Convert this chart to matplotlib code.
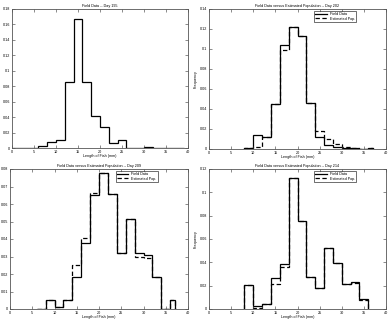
import numpy as np
import matplotlib
matplotlib.use("Agg")
import matplotlib.pyplot as plt
from matplotlib.ticker import FormatStrFormatter, MultipleLocator

plt.rcParams['font.family'] = ['Liberation Sans', 'DejaVu Sans']

# ---- data ----
edges_195 = list(range(0, 39, 2)) + [39]
field_195 = [0, 0, 0, 0.002, 0.0075, 0.011, 0.085, 0.167, 0.085, 0.041,
             0.027, 0.007, 0.010, 0, 0, 0.001, 0, 0, 0, 0]

edges_202 = list(range(8, 37, 2)) + [37]
field_202 = [0.001, 0.014, 0.0115, 0.045, 0.1035, 0.1215, 0.113, 0.046,
             0.0115, 0.0035, 0.0022, 0.001, 0.0005, 0, 0.001]
est_202 = [0.001, 0.002, 0.0115, 0.045, 0.099, 0.1215, 0.113, 0.046,
           0.0178, 0.0098, 0.0045, 0.0018, 0.001, 0.0004, 0.001]

edges_209 = list(range(6, 37, 2)) + [37]
field_209 = [0, 0.005, 0.001, 0.005, 0.0185, 0.038, 0.065, 0.078, 0.0655,
             0.032, 0.0516, 0.032, 0.0307, 0.0185, 0, 0.005]
est_209 = [0.0002, 0.005, 0.001, 0.005, 0.025, 0.0404, 0.0665, 0.078, 0.0655,
           0.032, 0.0516, 0.0295, 0.0293, 0.0185, 0, 0.005]

edges_214 = list(range(8, 37, 2))
field_214 = [0.0208, 0.003, 0.004, 0.0263, 0.039, 0.112, 0.0751, 0.0277,
             0.018, 0.0523, 0.0391, 0.0217, 0.0229, 0.0083]
est_214 = [0.0208, 0.001, 0.004, 0.0212, 0.0357, 0.112, 0.0751, 0.0277,
           0.018, 0.0523, 0.0391, 0.0217, 0.022, 0.008]

titles = ["Field Data -- Day 195",
          "Field Data versus Estimated Population -- Day 202",
          "Field Data versus Estimated Population -- Day 209",
          "Field Data versus Estimated Population -- Day 214"]
xlabel_txt = "Length of Fish (mm)"
legend_labels = ["Field Data", "Estimated Pop."]

fig = plt.figure(figsize=(3.9, 3.21), dpi=100)
W, H = 390, 321

def make_ax(x0, x1, y0, y1):
    return fig.add_axes([x0 / W, 1 - y1 / H, (x1 - x0) / W, (y1 - y0) / H])

axes = [make_ax(12, 188, 9, 148), make_ax(209, 386, 9, 149),
        make_ax(10, 188, 169, 309), make_ax(209, 386, 169, 309)]
ylims = [0.18, 0.14, 0.08, 0.12]
ysteps = [0.02, 0.02, 0.01, 0.02]

fs = 2.7
for ax, yl, ys, t in zip(axes, ylims, ysteps, titles):
    ax.set_xlim(0, 40)
    ax.set_ylim(0, yl)
    ax.xaxis.set_major_locator(MultipleLocator(5))
    ax.yaxis.set_major_locator(MultipleLocator(ys))
    ax.yaxis.set_major_formatter(FormatStrFormatter('%g'))
    ax.tick_params(direction='in', length=2, width=0.4, labelsize=fs, pad=1.2,
                   top=True, right=True, colors='#333333', labelcolor='black')
    for s in ax.spines.values():
        s.set_linewidth(0.6)
        s.set_color('#555555')
    ax.set_title(t, fontsize=fs, pad=1.2)
    ax.set_xlabel(xlabel_txt, fontsize=fs, labelpad=0.5)

axes[1].set_ylabel("Frequency", fontsize=fs, labelpad=1.5)
axes[3].set_ylabel("Frequency", fontsize=fs, labelpad=1.5)

lw = 0.9
axes[0].stairs(field_195, edges_195, color='black', lw=lw, baseline=None)

for ax, e, f, est in [(axes[1], edges_202, field_202, est_202),
                      (axes[2], edges_209, field_209, est_209),
                      (axes[3], edges_214, field_214, est_214)]:
    ax.stairs(f, e, color='black', lw=lw, baseline=0, label=legend_labels[0])
    ax.stairs(est, e, color='black', lw=lw, ls=(0, (3.5, 2)), baseline=0,
              label=legend_labels[1])
    leg = ax.legend(loc='upper right', bbox_to_anchor=(0.83, 0.985), fontsize=fs,
                    frameon=True, fancybox=False, edgecolor='black',
                    handlelength=3.0, borderpad=0.3, labelspacing=0.15,
                    handletextpad=0.8, borderaxespad=0)
    leg.get_frame().set_linewidth(0.5)

fig.savefig("out.png", dpi=100)
